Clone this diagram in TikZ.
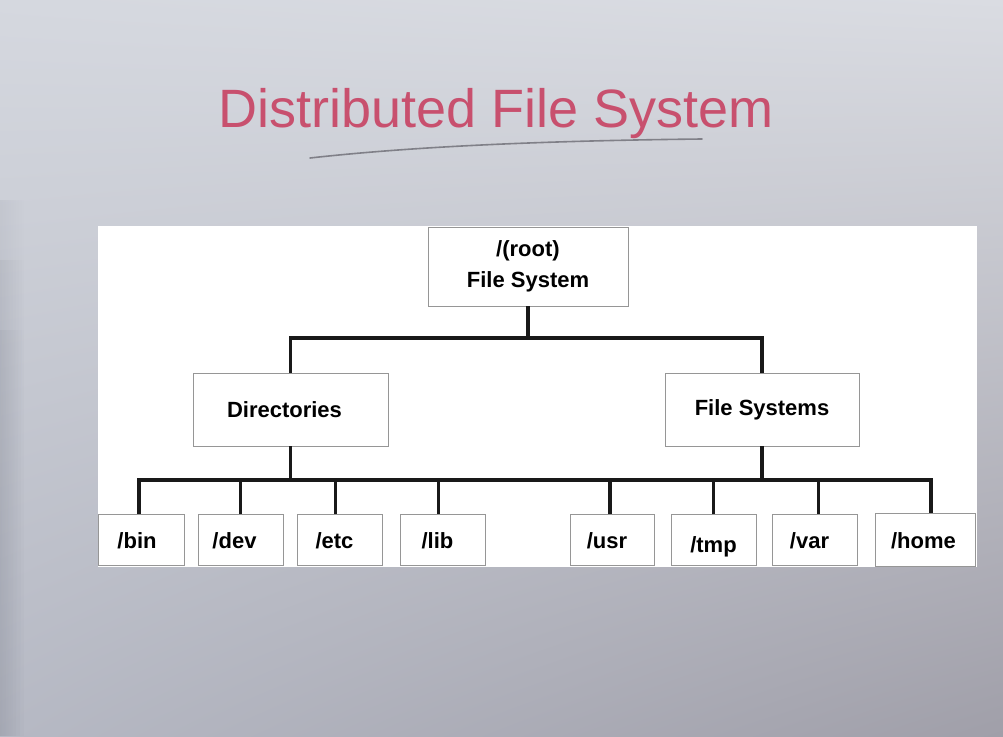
\documentclass[tikz,border=0pt]{standalone}
\usepackage{fontspec}
\setmainfont{Liberation Sans}
\usetikzlibrary{fadings,shadings}

\definecolor{boardUL}{RGB}{213,216,223}
\definecolor{boardUR}{RGB}{218,220,226}
\definecolor{boardLL}{RGB}{182,185,196}
\definecolor{boardLR}{RGB}{160,159,169}
\definecolor{boardedge}{RGB}{130,134,146}
\definecolor{inkred}{RGB}{200,80,110}
\definecolor{inkgray}{RGB}{128,128,136}
\definecolor{boxgray}{RGB}{150,150,150}

\begin{document}
\begin{tikzpicture}[x=1pt,y=-1pt,
  box/.style={draw=boxgray, line width=1pt, fill=white, inner sep=0pt, outer sep=0pt,
              font=\fontsize{22}{31}\selectfont\bfseries, align=center},
  leaf/.style={box, minimum width=85pt, minimum height=51pt, text height=18pt, text depth=1pt},
  link/.style={line width=3.1pt, black!90},
  edgeshade/.style={boardedge, path fading=east, opacity=0.12}]

\useasboundingbox (0,0) rectangle (1003,736);

% whiteboard, darker towards its lower left edge
\shade[upper left=boardUL, upper right=boardUR, lower left=boardLL, lower right=boardLR]
  (0,0) rectangle (1003,736);
\fill[edgeshade] (0,200) rectangle (24,736);
\fill[edgeshade] (0,260) rectangle (24,736);
\fill[edgeshade] (0,330) rectangle (24,736);

% handwritten heading and its underline
\node[font=\fontsize{54}{60}\selectfont, text=inkred, anchor=base] (title) at (496,127)
  {Distributed File System};
\draw[inkgray, line width=1.6pt, line cap=round]
  (310,158) .. controls (400,148) and (520,141) .. (702,139);

% slide panel
\fill[white] (98,226) rectangle (977,567);

% tree nodes
\node[box, minimum width=200pt, minimum height=79pt] (root) at (528,266.5) {/(root)\\File System};
\node[box, minimum width=195pt, minimum height=73pt] (dirs) at (290.5,409.5) {Directories\hspace{12pt}};
\node[box, minimum width=194pt, minimum height=73pt] (fsys) at (762,409.5) {File Systems};

\node[leaf, minimum width=86pt] (bin) at (141,539.5) {/bin\hspace{8pt}};
\node[leaf] (dev) at (240.5,539.5) {/dev\hspace{12pt}};
\node[leaf] (etc) at (339.5,539.5) {/etc\hspace{10pt}};
\node[leaf] (lib) at (442.5,539.5) {/lib\hspace{10pt}};
\node[leaf, minimum width=84pt] (usr) at (612,539.5) {/usr\hspace{10pt}};
\node[leaf] (tmp) at (713.5,539.5) {\raisebox{-4pt}{/tmp}};
\node[leaf] (var) at (814.5,539.5) {/var\hspace{10pt}};
\node[leaf, minimum width=100pt, minimum height=53pt] (home) at (925,539.5) {/home\hspace{3pt}};

% bus levels
\coordinate (topbus) at (528,338);
\coordinate (lowbus) at (528,480);

% root to the two groups
\draw[link] (root.south) -- (topbus);
\draw[link] (dirs.north) |- (topbus);
\draw[link] (fsys.north) |- (topbus);

% groups to the shared lower bus
\draw[link] (dirs.south) -- (dirs.south |- lowbus);
\draw[link] (fsys.south) -- (fsys.south |- lowbus);
\draw[link] ([xshift=-2pt]bin.north) |- (lowbus) -| ([xshift=6pt]home.north);

% leaf stems
\foreach \n/\dx in {dev/0, etc/-4, lib/-4, usr/-2, tmp/0, var/4}
  \draw[link] ([xshift=\dx pt]\n.north) -- ([xshift=\dx pt]\n.north |- lowbus);

\end{tikzpicture}
\end{document}
